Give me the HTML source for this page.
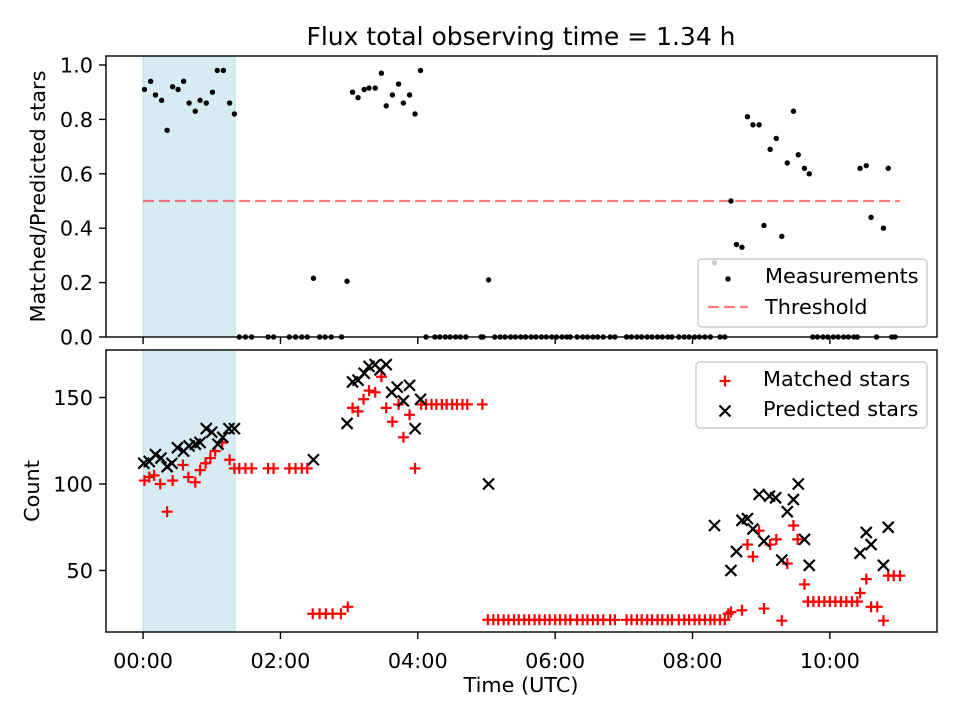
<!DOCTYPE html>
<html><head><meta charset="utf-8"><style>
body{margin:0;background:#fff;}
svg{font-family:"DejaVu Sans","Liberation Sans",sans-serif;}
</style></head><body>
<svg id="chart" width="960" height="720" viewBox="0 0 960 720" xmlns="http://www.w3.org/2000/svg"></svg>
<script>
const ratioTimes=[0.02,0.11,0.18,0.27,0.35,0.43,0.51,0.59,0.67,0.76,0.83,0.92,1.01,1.08,1.17,1.26,1.33,
1.40,1.49,1.58,1.82,1.90,2.13,2.22,2.31,2.39,2.48,2.57,2.65,2.74,2.89,2.97,
3.05,3.13,3.22,3.29,3.38,3.47,3.54,3.63,3.72,3.79,3.88,3.96,4.04,
4.12,4.25,4.32,4.40,4.47,4.55,4.62,4.70,4.92,4.95,5.03,
5.12,5.2,5.27,5.35,5.42,5.5,5.57,5.65,5.72,5.8,5.87,5.95,6.02,6.1,6.17,6.22,6.32,6.4,6.47,6.55,6.62,6.7,6.8,6.87,
7.04,7.11,7.19,7.26,7.34,7.41,7.49,7.56,7.64,7.7,7.8,7.88,7.95,8.03,8.1,8.18,8.26,8.32,8.4,8.47,
8.56,8.64,8.72,8.80,8.88,8.97,9.04,9.13,9.22,9.30,9.38,9.47,9.54,9.63,9.70,
9.75,9.82,9.9,9.97,10.05,10.12,10.2,10.27,10.35,10.4,10.44,10.53,10.60,10.68,10.78,10.85,10.9,10.95];
const ratioVals=[0.91,0.94,0.89,0.87,0.76,0.92,0.91,0.94,0.86,0.83,0.87,0.86,0.90,0.98,0.98,0.86,0.82,
0,0,0,0,0,0,0,0,0,0.216,0,0,0,0,0.205,
0.90,0.88,0.91,0.915,0.915,0.97,0.85,0.89,0.93,0.86,0.89,0.82,0.98,
0,0,0,0,0,0,0,0,0,0,0.21,
0,0,0,0,0,0,0,0,0,0,0,0,0,0,0,0,0,0,0,0,0,0,0,0,
0,0,0,0,0,0,0,0,0,0,0,0,0,0,0,0,0,0.273,0,0,
0.50,0.34,0.33,0.81,0.78,0.78,0.41,0.69,0.73,0.37,0.64,0.83,0.67,0.62,0.60,
0,0,0,0,0,0,0,0,0,0,0.62,0.63,0.44,0,0.40,0.62,0,0];
const matchedTimes=[0.02,0.09,0.16,0.25,0.35,0.43,0.58,0.66,0.76,0.83,0.91,0.98,1.05,1.15,1.26,1.33,1.40,1.49,1.58,1.82,1.90,2.13,2.22,2.31,2.39,
2.47,2.57,2.66,2.76,2.88,2.98,
3.05,3.13,3.21,3.29,3.38,3.47,3.54,3.63,3.72,3.79,3.88,3.96,
4.05,4.12,4.2,4.27,4.35,4.42,4.5,4.57,4.65,4.72,4.94,
5.02,5.1,5.17,5.25,5.32,5.4,5.47,5.55,5.62,5.7,5.77,5.85,5.92,6.0,6.07,6.15,6.22,6.32,6.4,6.47,6.55,6.62,6.7,6.8,6.87,
7.04,7.11,7.19,7.26,7.34,7.41,7.49,7.56,7.64,7.7,7.8,7.88,7.95,8.03,8.1,8.18,8.26,8.32,8.4,8.47,8.52,
8.56,8.72,8.80,8.88,8.97,9.04,9.13,9.22,9.30,9.38,9.47,9.53,9.63,
9.68,9.76,9.84,9.92,10.0,10.08,10.16,10.24,10.32,10.4,10.44,10.53,10.60,10.69,10.78,10.85,10.93,11.02];
const matchedVals=[102,104,105,100,84,102,111,104,101,108,112,115,119,124,114,109,109,109,109,109,109,109,109,109,109,
25,25,25,25,25,29,
144,142,149,154,153,162,144,136,146,127,140,109,
146,146,146,146,146,146,146,146,146,146,146,
21.5,21.5,21.5,21.5,21.5,21.5,21.5,21.5,21.5,21.5,21.5,21.5,21.5,21.5,21.5,21.5,21.5,21.5,21.5,21.5,21.5,21.5,21.5,21.5,21.5,
21.5,21.5,21.5,21.5,21.5,21.5,21.5,21.5,21.5,21.5,21.5,21.5,21.5,21.5,21.5,21.5,21.5,21.5,21.5,21.5,25,
26,27,65,58,73,28,65,68,21,54,76,68,42,
32,32,32,32,32,32,32,32,32,32,37,45,29,29,21,47,47,47];
const predTimes=[0.01,0.09,0.18,0.26,0.35,0.42,0.50,0.59,0.67,0.76,0.83,0.92,1.00,1.09,1.16,1.25,1.33,2.48,2.97,
3.05,3.13,3.22,3.29,3.38,3.45,3.54,3.62,3.70,3.79,3.88,3.96,4.04,5.03,
8.32,8.56,8.64,8.72,8.80,8.88,8.97,9.04,9.12,9.21,9.30,9.38,9.47,9.54,9.63,9.70,10.44,10.53,10.60,10.78,10.85];
const predVals=[112,113,117,115,110,112,121,119,122,123,124,132,130,123,127,132,132,114,135,
159,160,164,168,169,166,169,153,156,148,157,132,149,100,
76,50,61,79,80,74,94,67,93,92,56,84,91,100,68,53,60,72,65,53,75];
const xTicks=[0,2,4,6,8,10];
const xTickLabels=["00:00","02:00","04:00","06:00","08:00","10:00"];
const topTicks=[0,0.2,0.4,0.6,0.8,1.0];
const topTickLabels=["0.0","0.2","0.4","0.6","0.8","1.0"];
const botTicks=[50,100,150];
const threshold=0.5, thrStart=0, thrEnd=11.02, shadeStart=0, shadeEnd=1.34;

const NS="http://www.w3.org/2000/svg";
const svg=document.getElementById('chart');
const L=106,R=937,T1=56,B1=337,T2=350,B2=632;
const FS=20.8;
const xMin=-0.54,xMax=11.56;
const X=h=>L+(h-xMin)/(xMax-xMin)*(R-L);
const Y1=v=>337-v*272;
const Y2=v=>484-(v-100)*1.73;
function el(tag,attrs,parent){const e=document.createElementNS(NS,tag);for(const k in attrs)e.setAttribute(k,attrs[k]);(parent||svg).appendChild(e);return e;}
function txt(s,attrs,parent){const e=el('text',attrs,parent);e.textContent=s;return e;}

const title=txt("Flux total observing time = 1.34 h",{x:521,y:45,'font-size':25,'text-anchor':'middle',fill:'#000'});



function panel(T,B,name){
  const g=el('g',{});
  
  
  el('rect',{x:L,y:T,width:R-L,height:B-T,fill:'#fff'},g);
  const sh=el('rect',{x:X(shadeStart),y:T,width:X(shadeEnd)-X(shadeStart),height:B-T,fill:'#add8e6','fill-opacity':0.5,stroke:'#add8e6','stroke-opacity':0.8},g);
  
  
  return g;
}
const g1=panel(T1,B1,'ratio-panel');
const g2=panel(T2,B2,'count-panel');

const thr=el('line',{x1:X(thrStart),x2:X(thrEnd),y1:Y1(threshold),y2:Y1(threshold),stroke:'#ff0000','stroke-opacity':0.5,'stroke-width':2.2,'stroke-dasharray':'11,5'},g1);



ratioTimes.forEach((t,i)=>{
  const c=el('circle',{cx:X(t),cy:Y1(ratioVals[i]),r:2.7,fill:'#000'},g1);
  
  
});
function plus(x,y,col,g){return el('path',{d:`M${x-5.5},${y}H${x+5.5}M${x},${y-5.5}V${y+5.5}`,stroke:col,'stroke-width':2.2,fill:'none'},g);}
function cross(x,y,col,g){return el('path',{d:`M${x-5.5},${y-5.5}L${x+5.5},${y+5.5}M${x-5.5},${y+5.5}L${x+5.5},${y-5.5}`,stroke:col,'stroke-width':2.2,fill:'none'},g);}
matchedTimes.forEach((t,i)=>{
  const p=plus(X(t),Y2(matchedVals[i]),'#ff0000',g2);
  
  
});
predTimes.forEach((t,i)=>{
  const p=cross(X(t),Y2(predVals[i]),'#000',g2);
  
  
});

[[T1,B1],[T2,B2]].forEach(([T,B])=>{
  const f=el('rect',{x:L,y:T,width:R-L,height:B-T,fill:'none',stroke:'#000','stroke-width':1.4});
  
  
  xTicks.forEach(t=>{el('line',{x1:X(t),x2:X(t),y1:B,y2:B+7,stroke:'#000','stroke-width':1.4});});
});
xTicks.forEach((t,i)=>{
  const s=txt(xTickLabels[i],{x:X(t),y:B2+36,'font-size':FS,'text-anchor':'middle'});
  
  
});
topTicks.forEach((t,i)=>{
  el('line',{x1:L-7,x2:L,y1:Y1(t),y2:Y1(t),stroke:'#000','stroke-width':1.4});
  const s=txt(topTickLabels[i],{x:L-13,y:Y1(t)+7.5,'font-size':FS,'text-anchor':'end'});
  
  
});
botTicks.forEach(t=>{
  el('line',{x1:L-7,x2:L,y1:Y2(t),y2:Y2(t),stroke:'#000','stroke-width':1.4});
  const s=txt(String(t),{x:L-13,y:Y2(t)+7.5,'font-size':FS,'text-anchor':'end'});
  
  
});
const xl=txt("Time (UTC)",{x:521,y:692,'font-size':FS,'text-anchor':'middle'});


const yl1=txt("Matched/Predicted stars",{x:0,y:0,'font-size':FS,'text-anchor':'middle',transform:`translate(45,${(T1+B1)/2}) rotate(-90)`});


const yl2=txt("Count",{x:0,y:0,'font-size':FS,'text-anchor':'middle',transform:`translate(39,${(T2+B2)/2}) rotate(-90)`});



const lg1=el('g',{});


el('rect',{x:698,y:259,width:229,height:68,rx:4,fill:'#fff','fill-opacity':0.8,stroke:'#ccc','stroke-width':1.4},lg1);
el('circle',{cx:728,cy:279,r:2.7,fill:'#000'},lg1);
txt("Measurements",{x:765,y:283,'font-size':FS},lg1);
el('line',{x1:708,x2:748,y1:307,y2:307,stroke:'#ff0000','stroke-opacity':0.5,'stroke-width':2.2,'stroke-dasharray':'11,5'},lg1);
txt("Threshold",{x:765,y:314,'font-size':FS},lg1);

const lg2=el('g',{});


el('rect',{x:696,y:362,width:231,height:66,rx:4,fill:'#fff','fill-opacity':0.8,stroke:'#ccc','stroke-width':1.4},lg2);
plus(725,381,'#ff0000',lg2);
txt("Matched stars",{x:763,y:386,'font-size':FS},lg2);
cross(725,411,'#000',lg2);
txt("Predicted stars",{x:763,y:416,'font-size':FS},lg2);
</script>
</body></html>
